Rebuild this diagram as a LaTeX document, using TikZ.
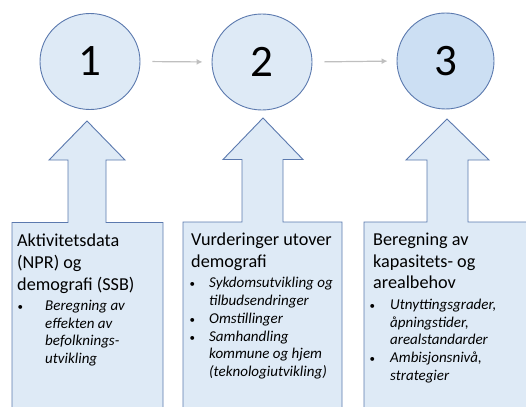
\documentclass[tikz,border=0pt]{standalone}
\usepackage{fontspec}
\setmainfont{Carlito}
\usetikzlibrary{shapes.geometric,arrows.meta}
\definecolor{lblue}{HTML}{DEEAF6}
\definecolor{mblue}{HTML}{CCDFF3}
\definecolor{bord}{HTML}{5B79AE}
\definecolor{garrow}{HTML}{BFBFBF}
\newcommand\titlef{\fontsize{18.2}{21.6}\selectfont}
\newcommand\bulf{\fontsize{15}{17.8}\selectfont\itshape}
\newcommand\plainleft{\raggedright\spaceskip=0pt\xspaceskip=0pt\relax}
% #1 bullet offset, #2 text offset, #3 text
\newcommand\bitem[3]{\par{\bulf\plainleft\leftskip=#2\noindent\llap{\upshape\fontsize{11}{11}\selectfont\textbullet\hspace{\dimexpr#2-#1-3pt\relax}}#3\par}}
\newcommand\bgap{\par\vspace{2.5pt}}
\tikzset{
  stage/.style={ellipse, draw=bord, line width=0.9pt, fill=lblue, inner sep=0pt,
    minimum width=100pt, minimum height=96pt, font=\fontsize{45}{45}\selectfont},
  callout/.style={draw=bord, line width=0.9pt, fill=lblue},
  flow/.style={draw=garrow, line width=1.2pt, -{Latex[length=6pt,width=6pt]}, shorten <=12pt, shorten >=9pt},
  boxtext/.style={anchor=north west, inner sep=0pt, text width=#1, font=\titlef}
}
\begin{document}
\begin{tikzpicture}[x=1pt,y=-1pt]
\useasboundingbox (0,0) rectangle (526,406);
\clip (0,0) rectangle (526,406);
% callouts
\draw[callout] (12,420) -- (12,222.5) -- (68,222.5) -- (68,160) -- (49,160) -- (87,121)
  -- (125,160) -- (106,160) -- (106,222.5) -- (163,222.5) -- (163,420);
\draw[callout] (183,420) -- (183,222) -- (242,222) -- (242,159.5) -- (223,159.5) -- (263,118)
  -- (303,159.5) -- (283,159.5) -- (283,222) -- (342,222) -- (342,420);
\draw[callout] (364,420) -- (364,222) -- (427,222) -- (427,160) -- (406,160) -- (447,119)
  -- (489,160) -- (468,160) -- (468,222) -- (540,222) -- (540,420);
% circles
\node[stage] (c1) at (90,61.5) {1};
\node[stage] (c2) at (262,62) {2};
\node[stage, fill=mblue, minimum width=97pt] (c3) at (445.5,61) {3};
\draw[flow] (c1.east) -- (c2.west);
\draw[flow] (c2.east) -- (c3.west);
% texts
\node[boxtext=145pt] (t1) at (17,234) {\plainleft Aktivitetsdata\\(NPR) og\\demografi (SSB)\bgap
  \bitem{3pt}{28pt}{Beregning av\\effekten av\\befolknings-\\utvikling}};
\node[boxtext=150pt] (t2) at (191,233) {\plainleft Vurderinger utover\\demografi\bgap
  \bitem{1pt}{18pt}{Sykdomsutvikling og\\tilbudsendringer}
  \bitem{1pt}{18pt}{Omstillinger}
  \bitem{1pt}{18pt}{Samhandling\\kommune og hjem\\(teknologiutvikling)}};
\node[boxtext=150pt] (t3) at (373,233) {\plainleft Beregning av\\kapasitets- og\\arealbehov\bgap
  \bitem{-1pt}{17pt}{Utnyttingsgrader,\\åpningstider,\\arealstandarder}
  \bitem{-1pt}{17pt}{Ambisjonsnivå,\\strategier}};
\end{tikzpicture}
\end{document}
